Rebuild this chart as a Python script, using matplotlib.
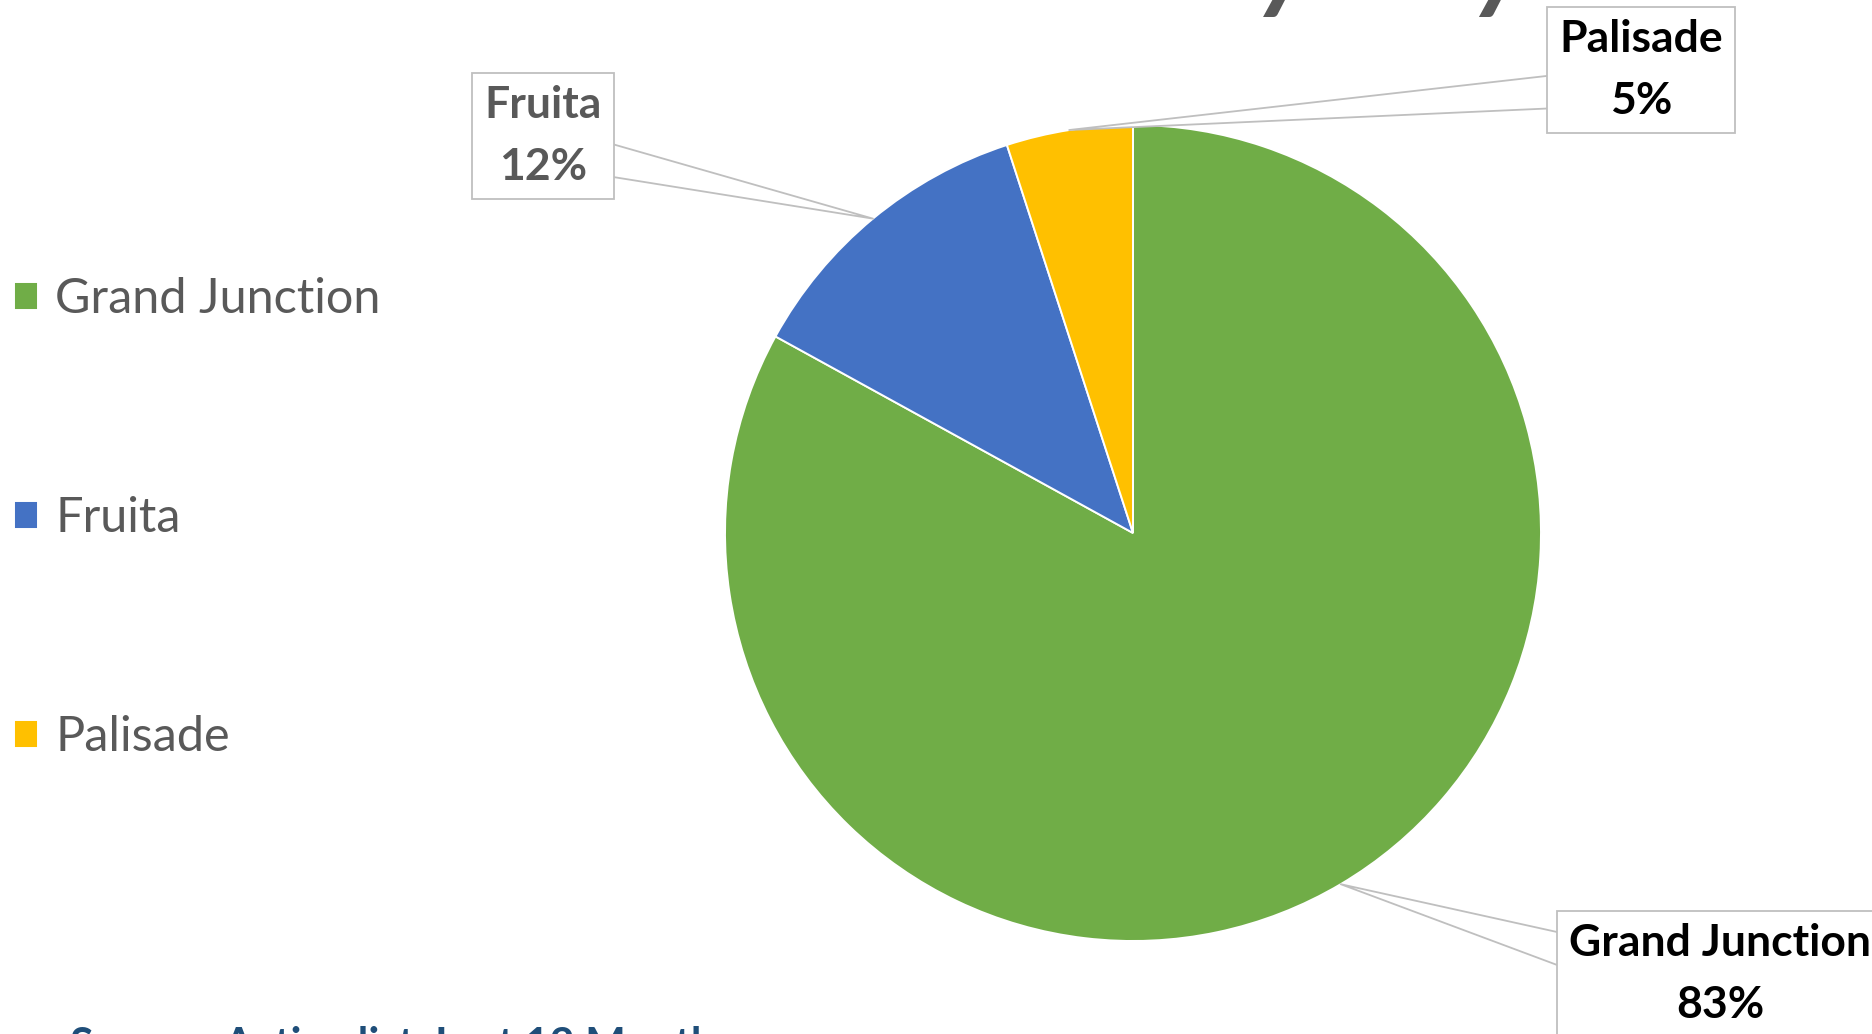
import matplotlib
matplotlib.use("Agg")
import matplotlib.pyplot as plt
import numpy as np

# share of listings per city
cities = ["Grand Junction", "Fruita", "Palisade"]
shares = [83, 12, 5]

title_text = "Sales by City"
source_text = "Source: Active list, Last 12 Months"

COLORS = ["#70AD47", "#4472C4", "#FFC000"]
LABEL_COLORS = ["#000000", "#595959", "#000000"]
GREY = "#595959"
W, H = 1872, 1034

plt.rcParams["font.family"] = ["Lato", "DejaVu Sans"]

fig = plt.figure(figsize=(W / 100, H / 100), dpi=100)
ax = fig.add_axes([0, 0, 1, 1])

cx, cy, r = 1133, H - 533, 408
wedges, _ = ax.pie(shares, colors=COLORS, startangle=90, counterclock=False,
                   center=(cx, cy), radius=r,
                   wedgeprops=dict(edgecolor="white", linewidth=1.4))
ax.set_xlim(0, W)
ax.set_ylim(0, H)
ax.set_aspect("equal")
ax.axis("off")

# callout boxes: (box centre in px, where the pointer leaves the box)
callouts = [
    ((1720, H - 974), (0.0, 0.72)),
    ((543, H - 136), (1.0, 0.28)),
    ((1641, H - 70), (0.0, 0.29)),
]
for w, name, val, col, (pos, rel) in zip(wedges, cities, shares, LABEL_COLORS, callouts):
    mid = np.deg2rad((w.theta1 + w.theta2) / 2)
    tip = (cx + r * np.cos(mid), cy + r * np.sin(mid))
    ax.annotate(f"{name}\n{val}%", xy=tip, xytext=pos,
                ha="center", va="center", fontsize=32, fontweight="bold",
                color=col, linespacing=1.65,
                bbox=dict(boxstyle="square,pad=0.28", fc="white",
                          ec="#BFBFBF", lw=1.3),
                arrowprops=dict(arrowstyle="wedge,tail_width=0.75", fc="white",
                                ec="#BFBFBF", lw=1.3, relpos=rel,
                                patchA=None, shrinkA=0, shrinkB=0))

leg = ax.legend(wedges, cities, loc="upper left",
                bbox_to_anchor=(14 / W, 1 - 277 / H), frameon=False,
                fontsize=35, labelcolor=GREY, handlelength=0.5,
                handleheight=0.5, handletextpad=0.35, labelspacing=3.6,
                borderpad=0, borderaxespad=0)

fig.text(933 / W, 1 + 2 / H, title_text, ha="left", va="baseline",
         fontsize=80, fontweight="bold", fontstyle="italic", color=GREY)
fig.text(70 / W, -25 / H, source_text, ha="left", va="baseline",
         fontsize=31, fontweight="bold", color="#1F4E79")

fig.savefig("out.png", dpi=100, facecolor="white")
